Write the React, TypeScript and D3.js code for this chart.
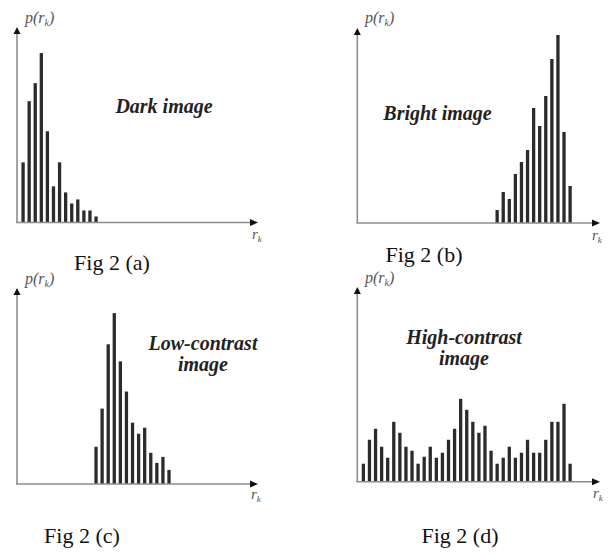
import React from "react";
import * as d3 from "d3";

// Histogram values p(r_k) (arbitrary units)
const darkValues = [60, 121, 139, 169, 91, 36, 60, 30, 19, 23, 12, 12, 6];
const brightValues = [13, 31, 24, 49, 61, 73, 115, 97, 127, 164, 188, 91, 37];
const lowValues = [37, 75, 139, 170, 122, 92, 61, 50, 56, 31, 21, 27, 14];
const highValues = [
  18, 42, 53, 35, 24, 60, 49, 35, 31, 18, 25, 35, 24, 29, 42, 53, 83, 72, 60,
  49, 56, 31, 18, 24, 35, 24, 29, 42, 29, 29, 42, 60, 60, 78, 18,
];
// first intensity level r_k of each histogram
const startLevels = [1, 23, 13, 1];
const panelLabels = [["Dark image"], ["Bright image"], ["Low-contrast", "image"], ["High-contrast", "image"]];
const captions = ["Fig 2 (a)", "Fig 2 (b)", "Fig 2 (c)", "Fig 2 (d)"];

const SERIF = "'Liberation Serif', 'Times New Roman', Times, serif";

type Panel = {
  values: number[];
  start: number;
  axisX: number;
  baseY: number;
  tipY: number;
  endX: number;
  labelLines: string[];
  labelX: number;
  labelY: number[];
  caption: string;
  capX: number;
  capY: number;
  pLabel: [number, number];
  rLabel: [number, number];
};

const panels: Panel[] = [
  {
    values: darkValues, start: startLevels[0], axisX: 17, baseY: 222.5, tipY: 27, endX: 258,
    labelLines: panelLabels[0], labelX: 164, labelY: [113], caption: captions[0], capX: 112, capY: 270,
    pLabel: [25, 23], rLabel: [252, 239],
  },
  {
    values: brightValues, start: startLevels[1], axisX: 357.3, baseY: 223, tipY: 28, endX: 600,
    labelLines: panelLabels[1], labelX: 437.5, labelY: [120], caption: captions[1], capX: 424, capY: 262,
    pLabel: [365, 23], rLabel: [592, 240],
  },
  {
    values: lowValues, start: startLevels[2], axisX: 17, baseY: 484, tipY: 288, endX: 258,
    labelLines: panelLabels[2], labelX: 203, labelY: [350, 371], caption: captions[2], capX: 82, capY: 543,
    pLabel: [25, 284], rLabel: [251, 499],
  },
  {
    values: highValues, start: startLevels[3], axisX: 357.3, baseY: 481.7, tipY: 287, endX: 600,
    labelLines: panelLabels[3], labelX: 464, labelY: [344, 365], caption: captions[3], capX: 460, capY: 543,
    pLabel: [365, 283], rLabel: [593, 498],
  },
];

const STEP = 6.08;

function HistPanel({ p }: { p: Panel }) {
  const x = d3.scaleLinear().domain([0, 40]).range([p.axisX, p.axisX + 40 * STEP]);
  const y = d3.scaleLinear().domain([0, 195]).range([p.baseY, p.tipY]);
  const barW = 3.3;
  const axisColor = "#8c8c8c";
  return (
    <g>
      {p.values.map((v, i) => {
        const lv = p.start + i;
        return (
          <rect
            key={i}
            x={x(lv) - barW / 2}
            y={y(v)}
            width={barW}
            height={p.baseY - y(v)}
            fill="#2b2b2b"
          />
        );
      })}
      {/* y axis */}
      <line x1={p.axisX} y1={p.baseY} x2={p.axisX} y2={p.tipY + 5} stroke={axisColor} strokeWidth={1.6} />
      <path
        d={`M${p.axisX},${p.tipY} L${p.axisX - 3.5},${p.tipY + 7} L${p.axisX + 3.5},${p.tipY + 7} Z`}
        fill="#111"
      />
      {/* x axis */}
      <line x1={p.axisX - 1} y1={p.baseY} x2={p.endX - 5} y2={p.baseY} stroke={axisColor} strokeWidth={1.6} />
      <path
        d={`M${p.endX},${p.baseY} L${p.endX - 8},${p.baseY - 3.5} L${p.endX - 8},${p.baseY + 3.5} Z`}
        fill="#111"
      />
      {/* p(r_k) label */}
      <text x={p.pLabel[0]} y={p.pLabel[1]} fontFamily={SERIF} fontStyle="italic" fontSize={16} fill="#555">
        p(r
        <tspan fontSize={10} dy={3}>k</tspan>
        <tspan dy={-3}>)</tspan>
      </text>
      {/* r_k label */}
      <text x={p.rLabel[0]} y={p.rLabel[1]} fontFamily={SERIF} fontStyle="italic" fontSize={15} fill="#555">
        r
        <tspan fontSize={9} dy={3}>k</tspan>
      </text>
      {/* panel label */}
      {p.labelLines.map((t, i) => (
        <text
          key={i}
          x={p.labelX}
          y={p.labelY[i]}
          textAnchor="middle"
          fontFamily={SERIF}
          fontStyle="italic"
          fontWeight="bold"
          fontSize={20}
          fill="#222"
        >
          {t}
        </text>
      ))}
      {/* caption */}
      <text x={p.capX} y={p.capY} textAnchor="middle" fontFamily={SERIF} fontSize={22} fill="#111">
        {p.caption}
      </text>
    </g>
  );
}

export default function App() {
  return (
    <svg
      width={611}
      height={555}
      style={{ position: "absolute", left: 0, top: 0, background: "#fff" }}
    >
      <rect width={611} height={555} fill="#fff" />
      {panels.map((p, i) => (
        <HistPanel key={i} p={p} />
      ))}
    </svg>
  );
}
